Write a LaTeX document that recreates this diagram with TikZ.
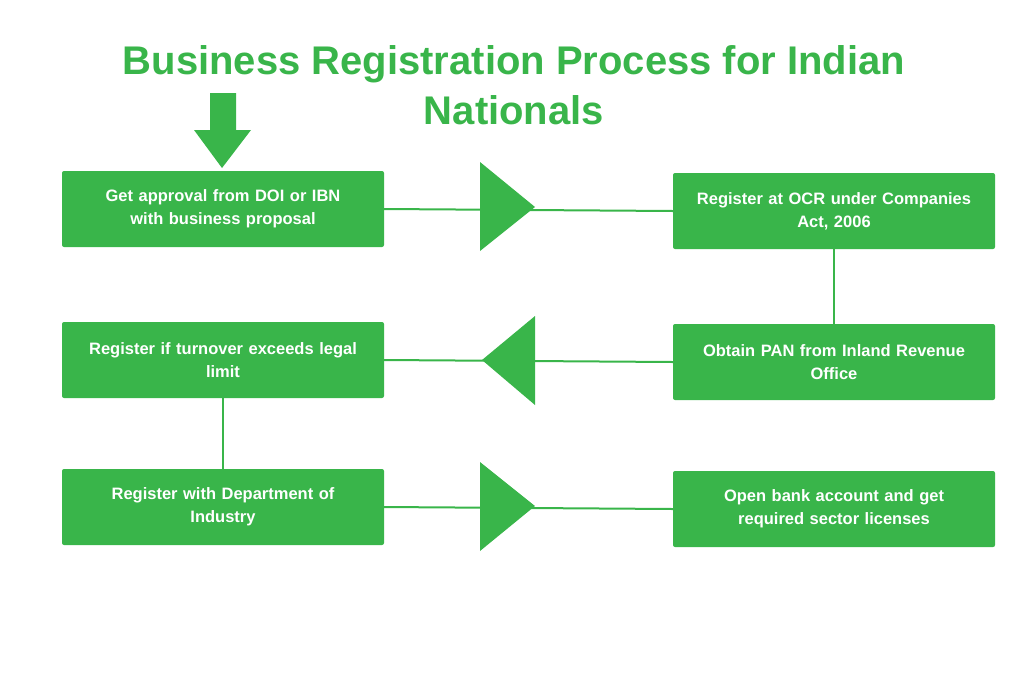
\documentclass[tikz,border=0pt]{standalone}
\usepackage{fontspec}
\setmainfont{Liberation Sans}
\definecolor{gr}{HTML}{39B54A}
\begin{document}
\begin{tikzpicture}[x=1pt,y=-1pt,
 box/.style={fill=gr,rounded corners=2pt,minimum width=322pt,minimum height=76pt,text width=300pt,align=center,text=white,font=\fontsize{16.5}{23}\selectfont\bfseries,inner sep=0pt},
 ln/.style={gr,line width=2pt},
 tri/.style={fill=gr}]
\useasboundingbox (0,0) rectangle (1024,683);
\node[text=gr,font=\fontsize{40}{50}\selectfont\bfseries,align=center] (title) at (514,85) {Business Registration Process for Indian\\Nationals};
\fill[gr] (210,93) -- (236,93) -- (236,130) -- (251,130) -- (222,168) -- (194,130) -- (210,130) -- cycle;
\node[box] (b1) at (223,209) {Get approval from DOI or IBN\\with business proposal};
\node[box] (b2) at (834,211) {Register at OCR under Companies\\Act, 2006};
\node[box] (b3) at (223,360) {Register if turnover exceeds legal\\limit};
\node[box] (b4) at (834,362) {Obtain PAN from Inland Revenue\\Office};
\node[box] (b5) at (223,507) {Register with Department of\\Industry};
\node[box] (b6) at (834,509) {Open bank account and get\\required sector licenses};
\draw[ln] (b1.east) -- (b2.west);
\draw[ln] (b2.south) -- (b4.north);
\draw[ln] (b4.west) -- (b3.east);
\draw[ln] (b3.south) -- (b5.north);
\draw[ln] (b5.east) -- (b6.west);
\fill[gr] (480,162) -- (535,207) -- (480,251) -- cycle;
\fill[gr] (535,316) -- (482,360) -- (535,405) -- cycle;
\fill[gr] (480,462) -- (535,506) -- (480,551) -- cycle;
\end{tikzpicture}
\end{document}
